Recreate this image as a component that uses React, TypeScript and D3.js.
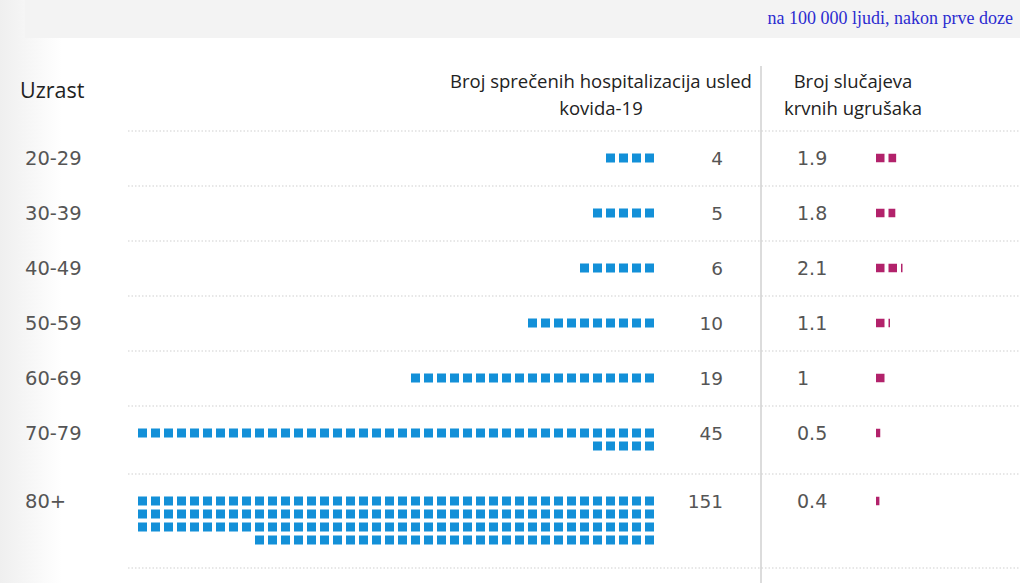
import React from "react";
import * as d3 from "d3";

const ageGroups = ["20-29", "30-39", "40-49", "50-59", "60-69", "70-79", "80+"];
const hospPrevented = [4, 5, 6, 10, 19, 45, 151];
const clotCases = [1.9, 1.8, 2.1, 1.1, 1, 0.5, 0.4];
const ageHeader = "Uzrast";
const hospHeader = ["Broj sprečenih hospitalizacija usled", "kovida-19"];
const clotHeader = ["Broj slučajeva", "krvnih ugrušaka"];
const noteText = "na 100 000 ljudi, nakon prve doze";

const W = 1026;
const H = 583;
const PER_ROW = 40;
const BLUE = "#1390d8";
const PINK = "#b2226b";
const NUM_FONT = "'DejaVu Sans', Verdana, sans-serif";
const HEAD_FONT = "'Open Sans', sans-serif";

export default function App() {
  const nRows = hospPrevented.map((v) => Math.ceil(v / PER_ROW));
  const rowH = nRows.map((n) => 55 + 13 * (n - 1));
  const tops = [131, ...Array.from(d3.cumsum(rowH)).map((c) => 131 + c)];

  const x = d3.scaleLinear().domain([0, PER_ROW]).range([654, 654 - 13 * PER_ROW]);
  const sq = 9;
  const xp = d3.scaleLinear().domain([0, 1]).range([876, 888.5]);
  const psq = 8.5;

  const blueRects: JSX.Element[] = [];
  const pinkRects: JSX.Element[] = [];
  hospPrevented.forEach((v, i) => {
    const cy = tops[i] + 27;
    const full = Math.floor(v / PER_ROW);
    const rem = v % PER_ROW;
    const rows: number[] = [];
    for (let r = 0; r < full; r++) rows.push(PER_ROW);
    if (rem > 0) rows.push(rem);
    rows.forEach((cnt, r) => {
      for (let j = 0; j < cnt; j++) {
        blueRects.push(
          <rect
            key={`b${i}-${r}-${j}`}
            x={x(j + 1) + (13 - sq)}
            y={cy - sq / 2 + r * 13}
            width={sq}
            height={sq}
            fill={BLUE}
          />
        );
      }
    });
    const c = clotCases[i];
    const cf = Math.floor(c + 1e-9);
    const frac = c - cf;
    for (let j = 0; j < cf; j++) {
      pinkRects.push(
        <rect key={`p${i}-${j}`} x={xp(j)} y={cy - psq / 2} width={psq} height={psq} fill={PINK} />
      );
    }
    if (frac > 0.01) {
      pinkRects.push(
        <rect
          key={`p${i}-f`}
          x={xp(cf)}
          y={cy - psq / 2}
          width={Math.max(frac * psq, 1.5)}
          height={psq}
          fill={PINK}
        />
      );
    }
  });

  return (
    <svg width={W} height={H} style={{ position: "absolute", left: 0, top: 0, background: "#fff" }}>
      <defs>
        <linearGradient id="leftfade" x1="0" x2="1" y1="0" y2="0">
          <stop offset="0" stopColor="#efefef" />
          <stop offset="1" stopColor="#ffffff" />
        </linearGradient>
      </defs>
      <rect x={0} y={0} width={62} height={H} fill="url(#leftfade)" />
      <rect x={25} y={0} width={995} height={38} fill="#f3f3f3" />
      <text
        x={1013}
        y={18}
        textAnchor="end"
        dominantBaseline="central"
        fontFamily="'Liberation Serif', 'Times New Roman', serif"
        fontSize={18}
        fill="#2b2bd0"
      >
        {noteText}
      </text>

      <line x1={761} x2={761} y1={66} y2={H} stroke="#dcdcdc" strokeWidth={2} />

      <text x={20} y={89} dominantBaseline="central" fontFamily={HEAD_FONT} fontSize={21.5} fill="#222">
        {ageHeader}
      </text>
      {hospHeader.map((t, k) => (
        <text
          key={`hh${k}`}
          x={601}
          y={80 + k * 27}
          textAnchor="middle"
          dominantBaseline="central"
          fontFamily={HEAD_FONT}
          fontSize={18.5}
          fill="#222"
        >
          {t}
        </text>
      ))}
      {clotHeader.map((t, k) => (
        <text
          key={`ch${k}`}
          x={853}
          y={80 + k * 27}
          textAnchor="middle"
          dominantBaseline="central"
          fontFamily={HEAD_FONT}
          fontSize={18.5}
          fill="#222"
        >
          {t}
        </text>
      ))}

      {tops.map((t, k) => (
        <line
          key={`sep${k}`}
          x1={128}
          x2={1020}
          y1={t}
          y2={t}
          stroke="#cfcfcf"
          strokeWidth={1}
          strokeDasharray="1.5,2"
        />
      ))}

      {ageGroups.map((g, i) => (
        <text
          key={`a${i}`}
          x={25}
          y={tops[i] + 27}
          dominantBaseline="central"
          fontFamily={NUM_FONT}
          fontSize={19.5}
          fill="#555"
        >
          {g}
        </text>
      ))}
      {blueRects}
      {hospPrevented.map((v, i) => (
        <text
          key={`hv${i}`}
          x={723}
          y={tops[i] + 27}
          textAnchor="end"
          dominantBaseline="central"
          fontFamily={NUM_FONT}
          fontSize={18.5}
          fill="#555"
        >
          {v}
        </text>
      ))}
      {clotCases.map((v, i) => (
        <text
          key={`cv${i}`}
          x={797}
          y={tops[i] + 27}
          dominantBaseline="central"
          fontFamily={NUM_FONT}
          fontSize={19}
          fill="#555"
        >
          {v}
        </text>
      ))}
      {pinkRects}
    </svg>
  );
}
